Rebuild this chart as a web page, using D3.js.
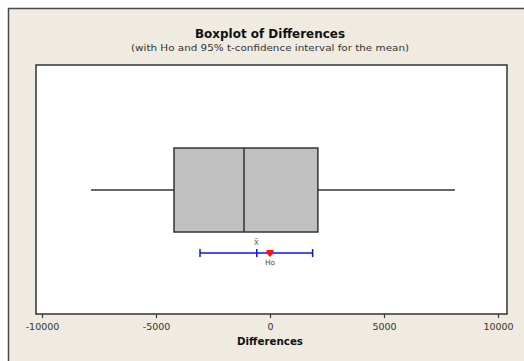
<!DOCTYPE html>
<html><head><meta charset="utf-8">
<script src="https://cdn.jsdelivr.net/npm/d3@7"></script>
<style>body{margin:0;background:#fff}svg{display:block}</style>
</head><body>
<script>
// Data
const xTicks = [-10000, -5000, 0, 5000, 10000];
const boxStats = {min: -7850, q1: -4210, median: -1140, q3: 2100, max: 8110};
const meanCI = {low: -3070, mean: -580, high: 1870};
const h0 = [0];

const W = 524, H = 361;
const svg = d3.select("body").append("svg").attr("width", W).attr("height", H);
svg.append("rect").attr("width", W).attr("height", H).attr("fill", "#fff");
// outer frame
svg.append("rect").attr("x", 8.5).attr("y", 8.5).attr("width", W + 10).attr("height", H + 10)
  .attr("fill", "#efebe1").attr("stroke", "#4a4a4a").attr("stroke-width", 1.5);

const plot = {l: 36, t: 65, r: 507, b: 314};
svg.append("rect").attr("x", plot.l).attr("y", plot.t).attr("width", plot.r - plot.l).attr("height", plot.b - plot.t)
  .attr("fill", "#fff").attr("stroke", "#333").attr("stroke-width", 1.5);

const x = d3.scaleLinear().domain([-10000, 10000]).range([42, 498]);
const font = "'DejaVu Sans', sans-serif";

svg.append("text").attr("x", 270).attr("y", 38).attr("text-anchor", "middle")
  .attr("font-family", font).attr("font-weight", "bold").attr("font-size", 12.5).attr("fill", "#111")
  .attr("textLength", 150).attr("lengthAdjust", "spacingAndGlyphs")
  .text("Boxplot of Differences");
svg.append("text").attr("x", 270).attr("y", 51).attr("text-anchor", "middle")
  .attr("font-family", font).attr("font-size", 9.5).attr("fill", "#333")
  .attr("textLength", 278).attr("lengthAdjust", "spacingAndGlyphs")
  .text("(with Ho and 95% t-confidence interval for the mean)");

// axis
const axis = d3.axisBottom(x).tickValues(xTicks).tickSize(4).tickSizeOuter(0).tickFormat(d3.format("d"));
const g = svg.append("g").attr("transform", `translate(0,${plot.b})`).call(axis);
g.select(".domain").remove();
g.selectAll(".tick line").attr("stroke", "#333").attr("stroke-width", 1.2);
g.selectAll(".tick text").attr("font-family", font).attr("font-size", 9.5).attr("fill", "#333").attr("dy", "0.9em")
  .text(d => d < 0 ? "-" + Math.abs(d) : d);
svg.append("text").attr("x", 270).attr("y", 345).attr("text-anchor", "middle")
  .attr("font-family", font).attr("font-weight", "bold").attr("font-size", 10).attr("fill", "#111")
  .attr("textLength", 66).attr("lengthAdjust", "spacingAndGlyphs")
  .text("Differences");

// boxplot
const yMid = 190, yTop = 148, yBot = 232;
const stroke = "#333";
svg.append("line").attr("x1", x(boxStats.min)).attr("x2", x(boxStats.q1)).attr("y1", yMid).attr("y2", yMid)
  .attr("stroke", stroke).attr("stroke-width", 1.5);
svg.append("line").attr("x1", x(boxStats.q3)).attr("x2", x(boxStats.max)).attr("y1", yMid).attr("y2", yMid)
  .attr("stroke", stroke).attr("stroke-width", 1.5);
svg.append("rect").attr("x", x(boxStats.q1)).attr("y", yTop).attr("width", x(boxStats.q3) - x(boxStats.q1)).attr("height", yBot - yTop)
  .attr("fill", "#c0c0c0").attr("stroke", stroke).attr("stroke-width", 1.5);
svg.append("line").attr("x1", x(boxStats.median)).attr("x2", x(boxStats.median)).attr("y1", yTop).attr("y2", yBot)
  .attr("stroke", stroke).attr("stroke-width", 1.5);

// CI
const yCI = 253;
const blue = "#1010ff";
svg.append("line").attr("x1", x(meanCI.low)).attr("x2", x(meanCI.high)).attr("y1", yCI).attr("y2", yCI)
  .attr("stroke", blue).attr("stroke-width", 1.5);
[meanCI.low, meanCI.mean, meanCI.high].forEach(v => {
  svg.append("line").attr("x1", x(v)).attr("x2", x(v)).attr("y1", yCI - 4).attr("y2", yCI + 4)
    .attr("stroke", blue).attr("stroke-width", 1.5);
});
svg.append("text").attr("x", x(meanCI.mean) - 0.5).attr("y", 245).attr("text-anchor", "middle")
  .attr("font-family", font).attr("font-size", 8).attr("fill", "#666").text("x̄");
// H0
h0.forEach(v => {
  svg.append("path").attr("transform", `translate(${x(v)},${yCI})`)
    .attr("d", "M-3.5,-3 L3.5,-3 L3.5,0 L0,4 L-3.5,0 Z").attr("fill", "#ff1010");
  svg.append("text").attr("x", x(v)).attr("y", 265).attr("text-anchor", "middle")
    .attr("font-family", font).attr("font-size", 7.5).attr("fill", "#555").text("Ho");
});
</script>
</body></html>
